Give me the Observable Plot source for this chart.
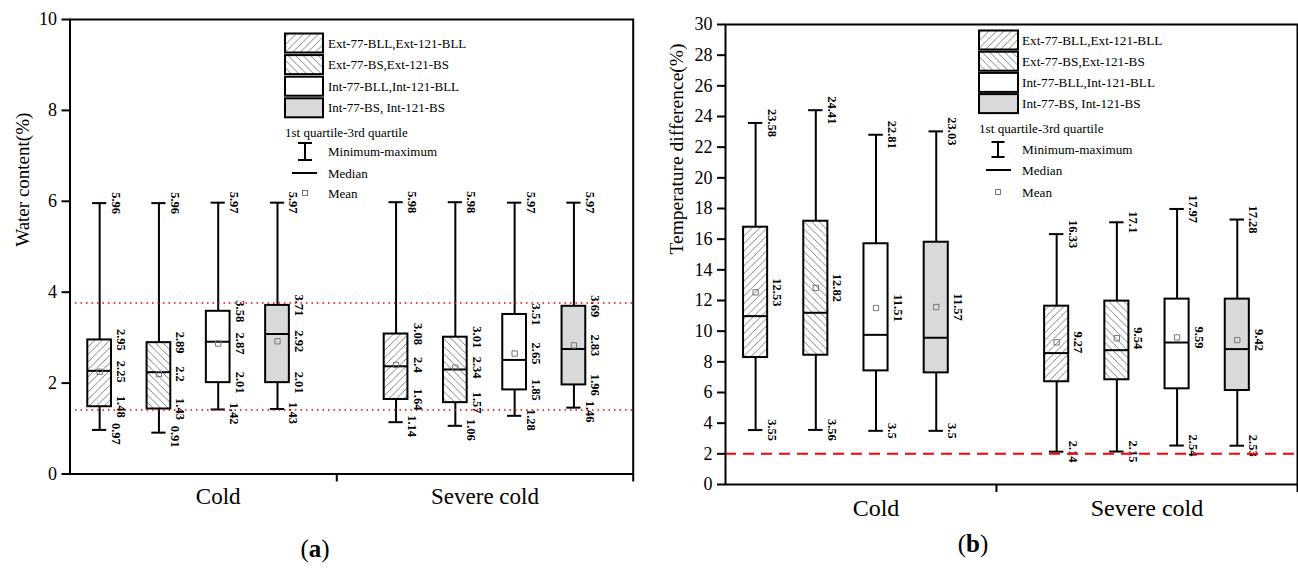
<!DOCTYPE html>
<html><head><meta charset="utf-8">
<script src="https://cdn.jsdelivr.net/npm/d3@7"></script>
<script src="https://cdn.jsdelivr.net/npm/@observablehq/plot@0.6"></script>
<style>
body{margin:0;background:#fff;font-family:"Liberation Serif","Times New Roman",serif;}
#wrap{position:relative;width:1298px;height:568px;overflow:hidden;background:#fff;}
#wrap > svg{position:absolute;top:0;}
</style></head><body>
<svg width="0" height="0" style="position:absolute">
<defs>
 <pattern id="hatchFwd" patternUnits="userSpaceOnUse" width="7.5" height="7.5">
  <rect width="7.5" height="7.5" fill="white"/>
  <path d="M-1,1 L1,-1 M0,7.5 L7.5,0 M6.5,8.5 L8.5,6.5" stroke="#555" stroke-width="0.75"/>
 </pattern>
 <pattern id="hatchBack" patternUnits="userSpaceOnUse" width="7.5" height="7.5">
  <rect width="7.5" height="7.5" fill="white"/>
  <path d="M-1,6.5 L1,8.5 M0,0 L7.5,7.5 M6.5,-1 L8.5,1" stroke="#555" stroke-width="0.75"/>
 </pattern>
</defs></svg>
<div id="wrap"></div>
<script>
// ---------- data ----------
const groups = ["Cold", "Severe cold"];
const types = ["Ext-77-BLL,Ext-121-BLL", "Ext-77-BS,Ext-121-BS", "Int-77-BLL,Int-121-BLL", "Int-77-BS, Int-121-BS"];
const legendExtra = ["1st quartile-3rd quartile", "Minimum-maximum", "Median", "Mean"];

// (a) Water content (%), order: Cold x4 types, Severe cold x4 types
const waterMin    = [0.97, 0.91, 1.42, 1.43, 1.14, 1.06, 1.28, 1.46];
const waterQ1     = [1.48, 1.43, 2.01, 2.01, 1.64, 1.57, 1.85, 1.96];
const waterMedian = [2.27, 2.24, 2.91, 3.08, 2.37, 2.30, 2.51, 2.75];
const waterMean   = [2.25, 2.2, 2.87, 2.92, 2.4, 2.34, 2.65, 2.83];
const waterQ3     = [2.95, 2.89, 3.58, 3.71, 3.08, 3.01, 3.51, 3.69];
const waterMax    = [5.96, 5.96, 5.97, 5.97, 5.98, 5.98, 5.97, 5.97];
const waterRef    = [1.41, 3.76];
const waterTicks  = [0, 2, 4, 6, 8, 10];

// (b) Temperature difference (%)
const tempMin    = [3.55, 3.56, 3.5, 3.5, 2.14, 2.15, 2.54, 2.53];
const tempQ1     = [8.28, 8.43, 7.41, 7.28, 6.70, 6.83, 6.24, 6.13];
const tempMedian = [10.98, 11.2, 9.76, 9.57, 8.57, 8.76, 9.26, 8.83];
const tempMean   = [12.53, 12.82, 11.51, 11.57, 9.27, 9.54, 9.59, 9.42];
const tempQ3     = [16.78, 17.17, 15.7, 15.8, 11.63, 11.96, 12.09, 12.09];
const tempMax    = [23.58, 24.41, 22.81, 23.03, 16.33, 17.1, 17.97, 17.28];
const tempRef    = [2];
const tempTicks  = d3.range(0, 31, 2);

// ---------- styles ----------
const typeFill = ["url(#hatchFwd)", "url(#hatchBack)", "white", "#d9d9d9"];
const SLOTS = 5;          // slots per group (4 boxes + gap)
const BOX = 0.2, CAP = 0.12;

function rows(min, q1, med, mean, q3, max) {
  return min.map((_, i) => {
    const gi = Math.floor(i / types.length), ti = i % types.length;
    return {group: groups[gi], type: types[ti], gi, ti, pos: gi * SLOTS + ti + 1,
      min: min[i], q1: q1[i], median: med[i], mean: mean[i], q3: q3[i], max: max[i]};
  });
}
const waterData = rows(waterMin, waterQ1, waterMedian, waterMean, waterQ3, waterMax);
const tempData = rows(tempMin, tempQ1, tempMedian, tempMean, tempQ3, tempMax);

const xDomain = [0.5, groups.length * SLOTS];
const dividers = groups.map((_, i) => (i + 1) * SLOTS);
const groupCenters = [(1 + SLOTS) / 2, (SLOTS + 2 * SLOTS) / 2];

function panel(data, cfg) {
  const lbl = {rotate: 90, fontWeight: "bold", fontSize: 12.5, fill: "black"};
  const marks = [
    Plot.rect(data, {x1: d => d.pos - BOX, x2: d => d.pos + BOX, y1: "q1", y2: "q3",
      fill: d => typeFill[d.ti], stroke: "black", strokeWidth: 2}),
    Plot.ruleX(data, {x: "pos", y1: "min", y2: "q1", strokeWidth: 2}),
    Plot.ruleX(data, {x: "pos", y1: "q3", y2: "max", strokeWidth: 2}),
    Plot.ruleY(data, {y: "min", x1: d => d.pos - CAP, x2: d => d.pos + CAP, strokeWidth: 2}),
    Plot.ruleY(data, {y: "max", x1: d => d.pos - CAP, x2: d => d.pos + CAP, strokeWidth: 2}),
    Plot.ruleY(data, {y: "median", x1: d => d.pos - BOX, x2: d => d.pos + BOX, strokeWidth: 2}),
    Plot.dot(data, {x: "pos", y: "mean", symbol: "square", r: 3, stroke: "#777", strokeWidth: 1, fill: "none"}),
    Plot.text(data, {...lbl, x: "pos", y: "max", text: d => String(d.max), dx: 16}),
    Plot.text(data, {...lbl, x: "pos", y: "mean", text: d => String(d.mean), dx: 21.5}),
    Plot.text(data, {...lbl, x: "pos", y: "min", text: d => String(d.min), dx: 16, dy: cfg.minDy}),
  ];
  if (cfg.quartileLabels) {
    marks.push(Plot.text(data, {...lbl, x: "pos", y: "q3", text: d => String(d.q3), dx: 21.5}));
    marks.push(Plot.text(data, {...lbl, x: "pos", y: "q1", text: d => String(d.q1), dx: 21.5}));
  }
  marks.push(
    Plot.ruleY(cfg.ref, {stroke: cfg.refColor, strokeDasharray: cfg.refDash, strokeWidth: cfg.refWidth}),
    Plot.frame({stroke: "black", strokeWidth: 2}),
    Plot.axisY(cfg.ticks, {tickSize: 8, tickPadding: 5, fontSize: cfg.tickFont, strokeWidth: 2, label: null}),
    Plot.axisX(dividers, {tickSize: 8, tickFormat: () => "", strokeWidth: 2, label: null}),
    Plot.axisX(groupCenters, {tickSize: 0, tickPadding: cfg.catPad, fontSize: cfg.catFont,
      tickFormat: d => groups[groupCenters.indexOf(d)], label: null}),
    Plot.text([cfg.yLabel], {frameAnchor: "left", rotate: -90, dx: cfg.yLabelDx, fontSize: cfg.yLabelFont, fill: "black"})
  );
  return Plot.plot({
    width: 648, height: 568,
    marginLeft: cfg.ml, marginRight: cfg.mr, marginTop: cfg.mt, marginBottom: cfg.mb,
    x: {domain: xDomain},
    y: {domain: cfg.yDomain},
    color: {type: "identity"},
    style: {fontFamily: "Liberation Serif, Times New Roman, serif", background: "transparent", color: "black", overflow: "visible"},
    marks
  });
}

const wrap = document.getElementById("wrap");
const svgA = panel(waterData, {
  ml: 69.5, mr: 15.3, mt: 19, mb: 94.5, yDomain: [0, 10], ticks: waterTicks, tickFont: 18,
  yLabel: "Water content(%)", yLabelDx: -47.5, yLabelFont: 19, catFont: 23, catPad: 14,
  ref: waterRef, refColor: "red", refDash: "1.5,4", refWidth: 1.5, quartileLabels: true, minDy: 4
});
svgA.style.left = "0px";
wrap.appendChild(svgA);

const svgB = panel(tempData, {
  ml: 75, mr: 1, mt: 24, mb: 84, yDomain: [0, 30], ticks: tempTicks, tickFont: 18,
  yLabel: "Temperature difference(%)", yLabelDx: -49, yLabelFont: 19.5, catFont: 24, catPad: 14,
  ref: tempRef, refColor: "red", refDash: "11,7", refWidth: 2, quartileLabels: false, minDy: 0
});
svgB.style.left = "650px";
wrap.appendChild(svgB);

// ---------- legends & panel tags (overlay) ----------
const ov = d3.select(wrap).append("svg").attr("width", 1298).attr("height", 568)
  .style("left", "0px").style("font-family", "Liberation Serif, Times New Roman, serif");

function legend(c) {
  const g = ov.append("g").attr("font-size", c.font).attr("fill", "black");
  types.forEach((t, i) => {
    const y = c.top + i * c.pitch;
    g.append("rect").attr("x", c.bx).attr("y", y).attr("width", c.bw).attr("height", c.bh)
      .attr("fill", typeFill[i]).attr("stroke", "black").attr("stroke-width", 2);
    g.append("text").attr("x", c.tx).attr("y", y + c.bh / 2).attr("dy", "0.35em").text(t);
  });
  g.append("text").attr("x", c.bx).attr("y", c.qy).attr("dy", "0.35em").text(legendExtra[0]);
  // I symbol
  g.append("line").attr("x1", c.ix).attr("x2", c.ix).attr("y1", c.iy[0]).attr("y2", c.iy[1]).attr("stroke", "black").attr("stroke-width", 2);
  [c.iy[0], c.iy[1]].forEach(y => g.append("line").attr("x1", c.ix - c.icap).attr("x2", c.ix + c.icap)
    .attr("y1", y).attr("y2", y).attr("stroke", "black").attr("stroke-width", 2));
  g.append("text").attr("x", c.tx).attr("y", (c.iy[0] + c.iy[1]) / 2).attr("dy", "0.35em").text(legendExtra[1]);
  g.append("line").attr("x1", c.medX[0]).attr("x2", c.medX[1]).attr("y1", c.medY).attr("y2", c.medY).attr("stroke", "black").attr("stroke-width", 2);
  g.append("text").attr("x", c.tx).attr("y", c.medY).attr("dy", "0.35em").text(legendExtra[2]);
  g.append("rect").attr("x", c.ix - 2.5).attr("y", c.meanY - 2.5).attr("width", 5).attr("height", 5)
    .attr("fill", "none").attr("stroke", "#777").attr("stroke-width", 1);
  g.append("text").attr("x", c.tx).attr("y", c.meanY).attr("dy", "0.35em").text(legendExtra[3]);
}
legend({font: 13, bx: 285, bw: 38, bh: 19, top: 33.5, pitch: 21.6, tx: 328, qy: 132,
  ix: 305, iy: [143, 160], icap: 7, medX: [292, 317], medY: 173, meanY: 193});
legend({font: 13.2, bx: 979, bw: 39, bh: 19, top: 30.5, pitch: 21.2, tx: 1022, qy: 128,
  ix: 998, iy: [142, 157], icap: 6.5, medX: [986, 1011], medY: 170, meanY: 192});

function tag(x, y, letter) {
  const t = ov.append("text").attr("x", x).attr("y", y).attr("text-anchor", "middle").attr("font-size", 25).attr("fill", "black");
  t.append("tspan").text("(");
  t.append("tspan").attr("font-weight", "bold").text(letter);
  t.append("tspan").text(")");
}
tag(315, 557, "a");
tag(973, 552, "b");
</script>
</body></html>
